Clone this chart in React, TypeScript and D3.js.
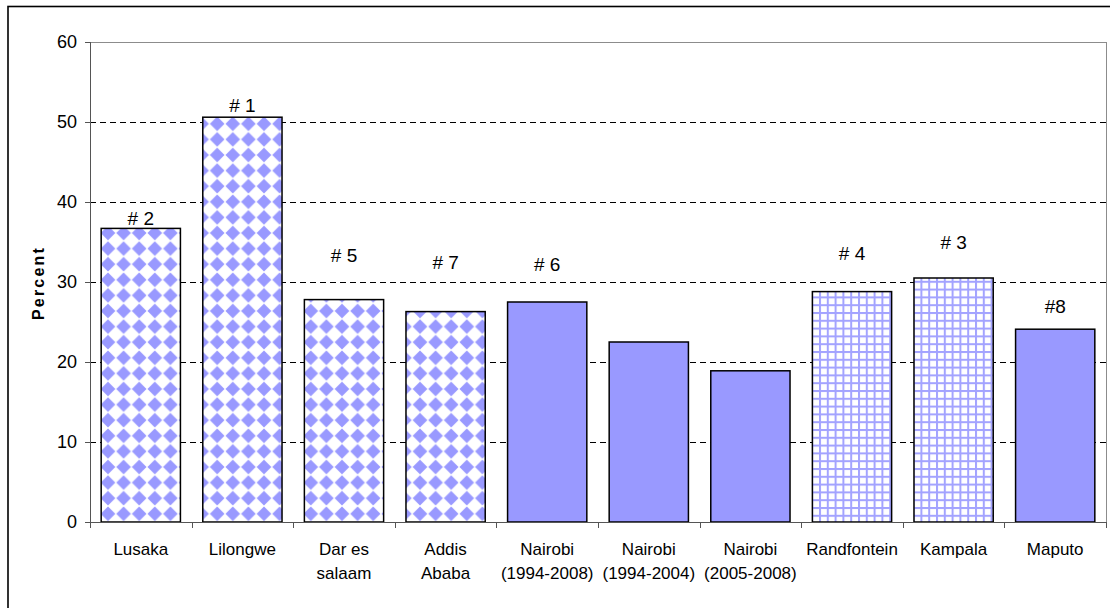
import React from "react";
import * as d3 from "d3";

// Cities / study sites along the x axis (line breaks marked with \n)
const categories: string[] = [
  "Lusaka",
  "Lilongwe",
  "Dar es\nsalaam",
  "Addis\nAbaba",
  "Nairobi\n(1994-2008)",
  "Nairobi\n(1994-2004)",
  "Nairobi\n(2005-2008)",
  "Randfontein",
  "Kampala",
  "Maputo",
];

// Percent value for each site
const percentValues: number[] = [36.7, 50.6, 27.8, 26.3, 27.5, 22.5, 18.9, 28.8, 30.5, 24.1];

// Fill style per bar: diamond checker, solid, or fine grid
const fillKinds: string[] = [
  "diamond",
  "diamond",
  "diamond",
  "diamond",
  "solid",
  "solid",
  "solid",
  "grid",
  "grid",
  "solid",
];

// Rank annotations and the value level where each one sits
const rankLabels: string[] = ["# 2", "# 1", "# 5", "# 7", "# 6", "", "", "# 4", "# 3", "#8"];
const rankLabelLevels: number[] = [38.0, 52.1, 33.3, 32.5, 32.2, 0, 0, 33.6, 35.0, 27.0];

// Y axis ticks
const yTicks: number[] = [0, 10, 20, 30, 40, 50, 60];

const W = 1110;
const H = 608;
const plot = { left: 90, top: 42, right: 1106, bottom: 522 };
const FONT = "'Liberation Sans', Arial, Helvetica, sans-serif";
const BAR_COLOR = "#9999FF";

export default function App() {
  const x = d3
    .scaleBand<string>()
    .domain(categories)
    .range([plot.left, plot.right])
    .paddingInner(0.22)
    .paddingOuter(0.11);
  const y = d3.scaleLinear().domain([0, 60]).range([plot.bottom, plot.top]);
  const step = x.step();
  const boundaries = d3.range(categories.length + 1).map((i) => Math.round(plot.left + i * step) + 0.5);

  const P = 15.6; // diamond tile size
  const G = 7.8; // grid tile size
  const r = P * 0.47;
  const c = P / 2;

  const fillFor = (kind: string) =>
    kind === "diamond" ? "url(#diamondFill)" : kind === "grid" ? "url(#gridFill)" : BAR_COLOR;

  return (
    <div style={{ position: "absolute", left: 0, top: 0 }}>
      <svg width={W} height={H} style={{ display: "block", background: "#fff" }}>
        <defs>
          <pattern
            id="diamondFill"
            patternUnits="userSpaceOnUse"
            width={P}
            height={P}
            x={108 - c}
            y={6.8}
          >
            <rect width={P} height={P} fill="#fff" />
            <path d={`M${c},${c - r}L${c + r},${c}L${c},${c + r}L${c - r},${c}Z`} fill={BAR_COLOR} />
          </pattern>
          <pattern id="gridFill" patternUnits="userSpaceOnUse" width={G} height={G} x={0} y={0}>
            <rect width={G} height={G} fill="#fff" />
            <rect x={0} y={0} width={2} height={G} fill="#A3A3FF" />
            <rect x={0} y={0} width={G} height={2} fill="#A3A3FF" />
          </pattern>
        </defs>

        {/* outer chart frame */}
        <rect x={8} y={6.5} width={W + 20} height={H + 20} fill="none" stroke="#000" strokeWidth={1.6} />

        {/* plot area border */}
        <rect
          x={plot.left + 0.5}
          y={plot.top + 0.5}
          width={plot.right - plot.left}
          height={plot.bottom - plot.top}
          fill="none"
          stroke="#8c8c8c"
          strokeWidth={1}
          shapeRendering="crispEdges"
        />

        {/* dashed gridlines */}
        {yTicks
          .filter((t) => t > 0 && t < 60)
          .map((t) => (
            <line
              key={t}
              x1={plot.left}
              x2={plot.right}
              y1={Math.round(y(t)) + 0.5}
              y2={Math.round(y(t)) + 0.5}
              stroke="#000"
              strokeWidth={1}
              strokeDasharray="6,4"
              shapeRendering="crispEdges"
            />
          ))}

        {/* bars */}
        {categories.map((cat, i) => (
          <rect
            key={cat}
            x={x(cat)}
            y={y(percentValues[i])}
            width={x.bandwidth()}
            height={y(0) - y(percentValues[i])}
            fill={fillFor(fillKinds[i])}
            stroke="#000"
            strokeWidth={1.5}
          />
        ))}

        {/* y axis */}
        <line
          x1={plot.left + 0.5}
          x2={plot.left + 0.5}
          y1={plot.top}
          y2={plot.bottom + 1}
          stroke="#555"
          strokeWidth={1}
          shapeRendering="crispEdges"
        />
        {yTicks.map((t) => (
          <g key={t}>
            <line
              x1={plot.left - 5}
              x2={plot.left}
              y1={Math.round(y(t)) + 0.5}
              y2={Math.round(y(t)) + 0.5}
              stroke="#555"
              strokeWidth={1}
              shapeRendering="crispEdges"
            />
            <text
              x={77}
              y={y(t)}
              dy="0.35em"
              textAnchor="end"
              fontFamily={FONT}
              fontSize={18}
              fill="#000"
            >
              {t}
            </text>
          </g>
        ))}

        {/* x axis */}
        <line
          x1={plot.left}
          x2={plot.right + 1}
          y1={plot.bottom + 0.5}
          y2={plot.bottom + 0.5}
          stroke="#555"
          strokeWidth={1}
          shapeRendering="crispEdges"
        />
        {boundaries.map((bx, i) => (
          <line
            key={i}
            x1={bx}
            x2={bx}
            y1={plot.bottom}
            y2={plot.bottom + 6}
            stroke="#555"
            strokeWidth={1}
            shapeRendering="crispEdges"
          />
        ))}
        {categories.map((cat) => {
          const cx = (x(cat) as number) + x.bandwidth() / 2;
          return (
            <text key={cat} textAnchor="middle" fontFamily={FONT} fontSize={17} fill="#000">
              {cat.split("\n").map((line, j) => (
                <tspan key={j} x={cx} y={555 + j * 24}>
                  {line}
                </tspan>
              ))}
            </text>
          );
        })}

        {/* rank annotations */}
        {categories.map((cat, i) =>
          rankLabels[i] ? (
            <text
              key={cat}
              x={(x(cat) as number) + x.bandwidth() / 2}
              y={y(rankLabelLevels[i])}
              dy="0.35em"
              textAnchor="middle"
              fontFamily={FONT}
              fontSize={19}
              fill="#000"
            >
              {rankLabels[i]}
            </text>
          ) : null
        )}

        {/* y axis title */}
        <text
          transform={`translate(43.5,${(plot.top + plot.bottom) / 2 + 1}) rotate(-90)`}
          textAnchor="middle"
          fontFamily={FONT}
          fontSize={16}
          fontWeight="bold"
          letterSpacing={2.2}
          fill="#000"
        >
          Percent
        </text>
      </svg>
    </div>
  );
}
